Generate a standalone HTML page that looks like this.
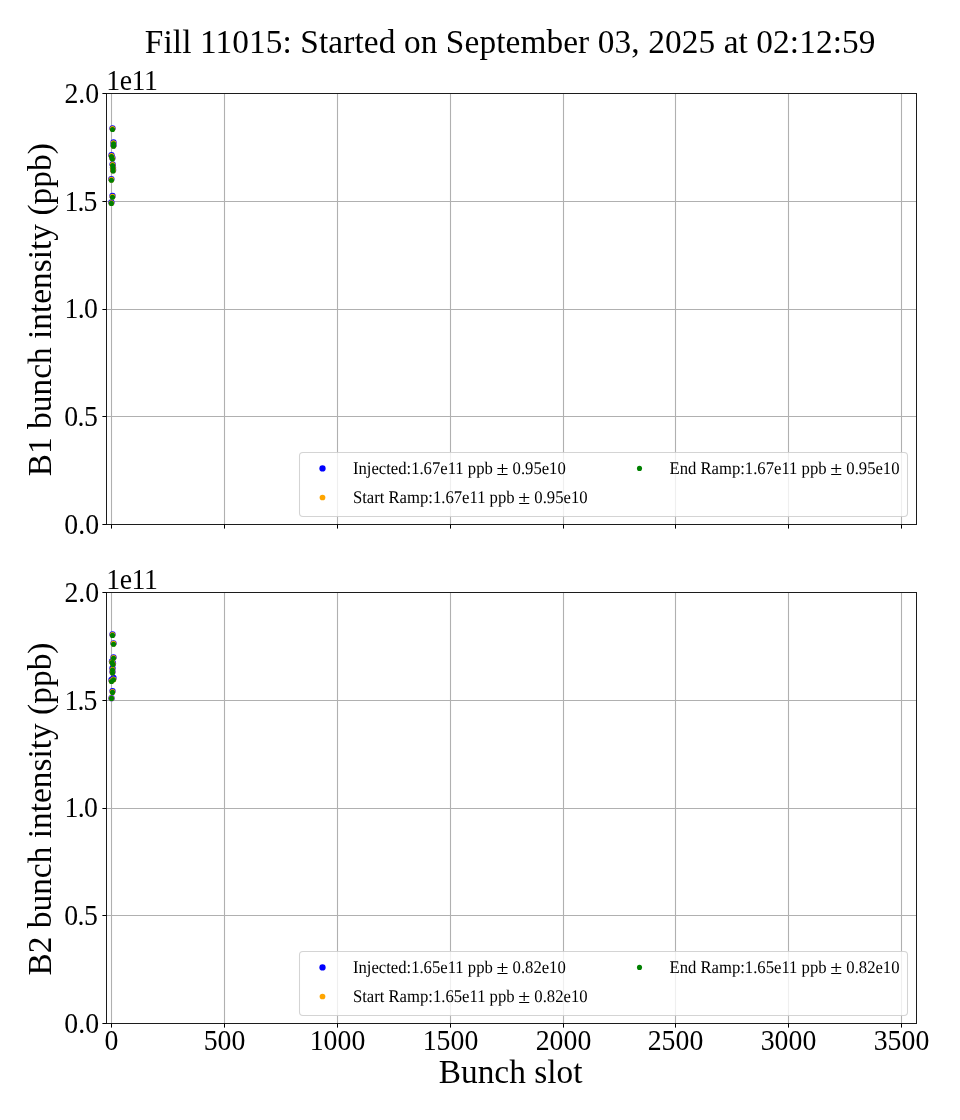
<!DOCTYPE html>
<html><head><meta charset="utf-8"><title>Fill 11015</title>
<style>
html,body{margin:0;padding:0;background:#fff;overflow:hidden;}
svg{display:block;}
text{font-family:'Liberation Serif', 'Times New Roman', serif;fill:#000;}
.t24{font-size:33.333px;}
.t20{font-size:27.778px;}
.t12{font-size:16.667px;}
.t12b{font-size:17.8px;text-rendering:geometricPrecision;}
.pm{font-size:18.4px;}
</style></head><body>
<svg width="960" height="1120" viewBox="0 0 960 1120">
<rect width="960" height="1120" fill="#ffffff"/>
<text transform="translate(144.84,52.90)" class="t24" textLength="730.70" lengthAdjust="spacing">Fill 11015: Started on September 03, 2025 at 02:12:59</text>
<line x1="111.5" y1="93.5" x2="111.5" y2="524.5" stroke="#b0b0b0" stroke-width="1.11"/>
<line x1="224.5" y1="93.5" x2="224.5" y2="524.5" stroke="#b0b0b0" stroke-width="1.11"/>
<line x1="337.5" y1="93.5" x2="337.5" y2="524.5" stroke="#b0b0b0" stroke-width="1.11"/>
<line x1="450.5" y1="93.5" x2="450.5" y2="524.5" stroke="#b0b0b0" stroke-width="1.11"/>
<line x1="563.5" y1="93.5" x2="563.5" y2="524.5" stroke="#b0b0b0" stroke-width="1.11"/>
<line x1="675.5" y1="93.5" x2="675.5" y2="524.5" stroke="#b0b0b0" stroke-width="1.11"/>
<line x1="788.5" y1="93.5" x2="788.5" y2="524.5" stroke="#b0b0b0" stroke-width="1.11"/>
<line x1="901.5" y1="93.5" x2="901.5" y2="524.5" stroke="#b0b0b0" stroke-width="1.11"/>
<line x1="106.5" y1="93.5" x2="916.5" y2="93.5" stroke="#b0b0b0" stroke-width="1.11"/>
<line x1="106.5" y1="201.5" x2="916.5" y2="201.5" stroke="#b0b0b0" stroke-width="1.11"/>
<line x1="106.5" y1="309.5" x2="916.5" y2="309.5" stroke="#b0b0b0" stroke-width="1.11"/>
<line x1="106.5" y1="416.5" x2="916.5" y2="416.5" stroke="#b0b0b0" stroke-width="1.11"/>
<line x1="106.5" y1="524.5" x2="916.5" y2="524.5" stroke="#b0b0b0" stroke-width="1.11"/>
<circle cx="112.5" cy="128.3" r="3.15" fill="#0000ff"/>
<circle cx="113.5" cy="142.39999999999998" r="3.15" fill="#0000ff"/>
<circle cx="113.5" cy="145.3" r="3.15" fill="#0000ff"/>
<circle cx="111.5" cy="155.2" r="3.15" fill="#0000ff"/>
<circle cx="112.4" cy="158.0" r="3.15" fill="#0000ff"/>
<circle cx="112.6" cy="164.3" r="3.15" fill="#0000ff"/>
<circle cx="113.0" cy="167.5" r="3.15" fill="#0000ff"/>
<circle cx="113.1" cy="170.0" r="3.15" fill="#0000ff"/>
<circle cx="111.4" cy="179.10000000000002" r="3.15" fill="#0000ff"/>
<circle cx="112.5" cy="196.0" r="3.15" fill="#0000ff"/>
<circle cx="111.4" cy="202.4" r="3.15" fill="#0000ff"/>
<circle cx="112.5" cy="128.8" r="2.85" fill="#ffa500"/>
<circle cx="113.5" cy="143.0" r="2.85" fill="#ffa500"/>
<circle cx="113.5" cy="145.8" r="2.85" fill="#ffa500"/>
<circle cx="111.5" cy="155.8" r="2.85" fill="#ffa500"/>
<circle cx="112.4" cy="158.5" r="2.85" fill="#ffa500"/>
<circle cx="112.6" cy="164.9" r="2.85" fill="#ffa500"/>
<circle cx="113.0" cy="168.0" r="2.85" fill="#ffa500"/>
<circle cx="113.1" cy="170.5" r="2.85" fill="#ffa500"/>
<circle cx="111.4" cy="179.70000000000002" r="2.85" fill="#ffa500"/>
<circle cx="112.5" cy="196.60000000000002" r="2.85" fill="#ffa500"/>
<circle cx="111.4" cy="203.0" r="2.85" fill="#ffa500"/>
<circle cx="112.5" cy="129.5" r="2.55" fill="#008000"/>
<circle cx="113.5" cy="143.7" r="2.55" fill="#008000"/>
<circle cx="113.5" cy="146.3" r="2.55" fill="#008000"/>
<circle cx="111.5" cy="156.5" r="2.55" fill="#008000"/>
<circle cx="112.4" cy="159.0" r="2.55" fill="#008000"/>
<circle cx="112.6" cy="165.5" r="2.55" fill="#008000"/>
<circle cx="113.0" cy="168.5" r="2.55" fill="#008000"/>
<circle cx="113.1" cy="171.0" r="2.55" fill="#008000"/>
<circle cx="111.4" cy="180.3" r="2.55" fill="#008000"/>
<circle cx="112.5" cy="197.3" r="2.55" fill="#008000"/>
<circle cx="111.4" cy="203.4" r="2.55" fill="#008000"/>
<rect x="106.5" y="93.5" width="810.0" height="431.0" fill="none" stroke="#1c1c1c" stroke-width="1"/>
<line x1="111.5" y1="524.5" x2="111.5" y2="528.6" stroke="#000" stroke-width="1.0"/>
<line x1="224.5" y1="524.5" x2="224.5" y2="528.6" stroke="#000" stroke-width="1.0"/>
<line x1="337.5" y1="524.5" x2="337.5" y2="528.6" stroke="#000" stroke-width="1.0"/>
<line x1="450.5" y1="524.5" x2="450.5" y2="528.6" stroke="#000" stroke-width="1.0"/>
<line x1="563.5" y1="524.5" x2="563.5" y2="528.6" stroke="#000" stroke-width="1.0"/>
<line x1="675.5" y1="524.5" x2="675.5" y2="528.6" stroke="#000" stroke-width="1.0"/>
<line x1="788.5" y1="524.5" x2="788.5" y2="528.6" stroke="#000" stroke-width="1.0"/>
<line x1="901.5" y1="524.5" x2="901.5" y2="528.6" stroke="#000" stroke-width="1.0"/>
<line x1="106.5" y1="93.5" x2="102.4" y2="93.5" stroke="#000" stroke-width="1.0"/>
<line x1="106.5" y1="201.5" x2="102.4" y2="201.5" stroke="#000" stroke-width="1.0"/>
<line x1="106.5" y1="309.5" x2="102.4" y2="309.5" stroke="#000" stroke-width="1.0"/>
<line x1="106.5" y1="416.5" x2="102.4" y2="416.5" stroke="#000" stroke-width="1.0"/>
<line x1="106.5" y1="524.5" x2="102.4" y2="524.5" stroke="#000" stroke-width="1.0"/>
<text transform="translate(64.38,102.60) scale(1.0,1.055)" class="t20" textLength="34.68" lengthAdjust="spacing">2.0</text>
<text transform="translate(64.46,210.60) scale(1.0,1.055)" class="t20" textLength="32.88" lengthAdjust="spacing">1.5</text>
<text transform="translate(64.46,317.60) scale(1.0,1.055)" class="t20" textLength="33.50" lengthAdjust="spacing">1.0</text>
<text transform="translate(64.34,425.60) scale(1.0,1.055)" class="t20" textLength="33.45" lengthAdjust="spacing">0.5</text>
<text transform="translate(64.34,533.60) scale(1.0,1.055)" class="t20" textLength="34.82" lengthAdjust="spacing">0.0</text>
<text transform="translate(106.30,89.90) scale(1.0,1.055)" class="t20" textLength="51.60" lengthAdjust="spacing">1e11</text>
<text transform="translate(50.70,309.75) rotate(-90)" class="t24" text-anchor="middle" textLength="333.00" lengthAdjust="spacing">B1 bunch intensity (ppb)</text>
<rect x="299.5" y="452.5" width="608.0" height="64.0" rx="3.4" ry="3.4" fill="#ffffff" fill-opacity="0.8" stroke="#cccccc" stroke-opacity="0.85" stroke-width="1.05"/>
<circle cx="322.5" cy="468.4" r="3.15" fill="#0000ff"/>
<circle cx="322.5" cy="497.5" r="2.85" fill="#ffa500"/>
<circle cx="639.5" cy="468.4" r="2.55" fill="#008000"/>
<text transform="translate(352.90,473.70) scale(0.9363,1.0)" class="t12b">Injected:1.67e11 ppb</text>
<text transform="translate(496.52,475.00) scale(1.18,1.0)" class="pm">±</text>
<text transform="translate(512.58,473.70) scale(0.9363,1.0)" class="t12b">0.95e10</text>
<text transform="translate(352.90,502.80) scale(0.9363,1.0)" class="t12b">Start Ramp:1.67e11 ppb</text>
<text transform="translate(518.31,504.10) scale(1.18,1.0)" class="pm">±</text>
<text transform="translate(534.37,502.80) scale(0.9363,1.0)" class="t12b">0.95e10</text>
<text transform="translate(669.50,473.70) scale(0.9363,1.0)" class="t12b">End Ramp:1.67e11 ppb</text>
<text transform="translate(830.27,475.00) scale(1.18,1.0)" class="pm">±</text>
<text transform="translate(846.33,473.70) scale(0.9363,1.0)" class="t12b">0.95e10</text>
<line x1="111.5" y1="592.5" x2="111.5" y2="1023.5" stroke="#b0b0b0" stroke-width="1.11"/>
<line x1="224.5" y1="592.5" x2="224.5" y2="1023.5" stroke="#b0b0b0" stroke-width="1.11"/>
<line x1="337.5" y1="592.5" x2="337.5" y2="1023.5" stroke="#b0b0b0" stroke-width="1.11"/>
<line x1="450.5" y1="592.5" x2="450.5" y2="1023.5" stroke="#b0b0b0" stroke-width="1.11"/>
<line x1="563.5" y1="592.5" x2="563.5" y2="1023.5" stroke="#b0b0b0" stroke-width="1.11"/>
<line x1="675.5" y1="592.5" x2="675.5" y2="1023.5" stroke="#b0b0b0" stroke-width="1.11"/>
<line x1="788.5" y1="592.5" x2="788.5" y2="1023.5" stroke="#b0b0b0" stroke-width="1.11"/>
<line x1="901.5" y1="592.5" x2="901.5" y2="1023.5" stroke="#b0b0b0" stroke-width="1.11"/>
<line x1="106.5" y1="592.5" x2="916.5" y2="592.5" stroke="#b0b0b0" stroke-width="1.11"/>
<line x1="106.5" y1="700.5" x2="916.5" y2="700.5" stroke="#b0b0b0" stroke-width="1.11"/>
<line x1="106.5" y1="808.5" x2="916.5" y2="808.5" stroke="#b0b0b0" stroke-width="1.11"/>
<line x1="106.5" y1="915.5" x2="916.5" y2="915.5" stroke="#b0b0b0" stroke-width="1.11"/>
<line x1="106.5" y1="1023.5" x2="916.5" y2="1023.5" stroke="#b0b0b0" stroke-width="1.11"/>
<circle cx="112.5" cy="634.4" r="3.15" fill="#0000ff"/>
<circle cx="113.5" cy="643.3" r="3.15" fill="#0000ff"/>
<circle cx="113.5" cy="657.3" r="3.15" fill="#0000ff"/>
<circle cx="112.0" cy="661.3" r="3.15" fill="#0000ff"/>
<circle cx="113.0" cy="663.5" r="3.15" fill="#0000ff"/>
<circle cx="112.5" cy="668.2" r="3.15" fill="#0000ff"/>
<circle cx="112.5" cy="671.8" r="3.15" fill="#0000ff"/>
<circle cx="113.5" cy="678.0" r="3.15" fill="#0000ff"/>
<circle cx="111.5" cy="680.0" r="3.15" fill="#0000ff"/>
<circle cx="112.5" cy="691.1" r="3.15" fill="#0000ff"/>
<circle cx="111.5" cy="698.1999999999999" r="3.15" fill="#0000ff"/>
<circle cx="112.5" cy="634.8" r="2.85" fill="#ffa500"/>
<circle cx="113.5" cy="643.6999999999999" r="2.85" fill="#ffa500"/>
<circle cx="113.5" cy="657.8" r="2.85" fill="#ffa500"/>
<circle cx="112.0" cy="662.1" r="2.85" fill="#ffa500"/>
<circle cx="113.0" cy="664.0" r="2.85" fill="#ffa500"/>
<circle cx="112.5" cy="669.6" r="2.85" fill="#ffa500"/>
<circle cx="112.5" cy="672.6" r="2.85" fill="#ffa500"/>
<circle cx="113.5" cy="679.4" r="2.85" fill="#ffa500"/>
<circle cx="111.5" cy="681.1" r="2.85" fill="#ffa500"/>
<circle cx="112.5" cy="691.9" r="2.85" fill="#ffa500"/>
<circle cx="111.5" cy="698.3" r="2.85" fill="#ffa500"/>
<circle cx="112.5" cy="635.4" r="2.55" fill="#008000"/>
<circle cx="113.5" cy="644.3" r="2.55" fill="#008000"/>
<circle cx="113.5" cy="658.3" r="2.55" fill="#008000"/>
<circle cx="112.0" cy="662.5" r="2.55" fill="#008000"/>
<circle cx="113.0" cy="664.5" r="2.55" fill="#008000"/>
<circle cx="112.5" cy="670.0" r="2.55" fill="#008000"/>
<circle cx="112.5" cy="673.0" r="2.55" fill="#008000"/>
<circle cx="113.5" cy="679.8" r="2.55" fill="#008000"/>
<circle cx="111.5" cy="681.5" r="2.55" fill="#008000"/>
<circle cx="112.5" cy="692.4" r="2.55" fill="#008000"/>
<circle cx="111.5" cy="698.4" r="2.55" fill="#008000"/>
<rect x="106.5" y="592.5" width="810.0" height="431.0" fill="none" stroke="#1c1c1c" stroke-width="1"/>
<line x1="111.5" y1="1023.5" x2="111.5" y2="1027.6" stroke="#000" stroke-width="1.0"/>
<line x1="224.5" y1="1023.5" x2="224.5" y2="1027.6" stroke="#000" stroke-width="1.0"/>
<line x1="337.5" y1="1023.5" x2="337.5" y2="1027.6" stroke="#000" stroke-width="1.0"/>
<line x1="450.5" y1="1023.5" x2="450.5" y2="1027.6" stroke="#000" stroke-width="1.0"/>
<line x1="563.5" y1="1023.5" x2="563.5" y2="1027.6" stroke="#000" stroke-width="1.0"/>
<line x1="675.5" y1="1023.5" x2="675.5" y2="1027.6" stroke="#000" stroke-width="1.0"/>
<line x1="788.5" y1="1023.5" x2="788.5" y2="1027.6" stroke="#000" stroke-width="1.0"/>
<line x1="901.5" y1="1023.5" x2="901.5" y2="1027.6" stroke="#000" stroke-width="1.0"/>
<line x1="106.5" y1="592.5" x2="102.4" y2="592.5" stroke="#000" stroke-width="1.0"/>
<line x1="106.5" y1="700.5" x2="102.4" y2="700.5" stroke="#000" stroke-width="1.0"/>
<line x1="106.5" y1="808.5" x2="102.4" y2="808.5" stroke="#000" stroke-width="1.0"/>
<line x1="106.5" y1="915.5" x2="102.4" y2="915.5" stroke="#000" stroke-width="1.0"/>
<line x1="106.5" y1="1023.5" x2="102.4" y2="1023.5" stroke="#000" stroke-width="1.0"/>
<text transform="translate(64.38,601.60) scale(1.0,1.055)" class="t20" textLength="34.68" lengthAdjust="spacing">2.0</text>
<text transform="translate(64.46,709.60) scale(1.0,1.055)" class="t20" textLength="32.88" lengthAdjust="spacing">1.5</text>
<text transform="translate(64.46,816.60) scale(1.0,1.055)" class="t20" textLength="33.50" lengthAdjust="spacing">1.0</text>
<text transform="translate(64.34,924.60) scale(1.0,1.055)" class="t20" textLength="33.45" lengthAdjust="spacing">0.5</text>
<text transform="translate(64.34,1032.60) scale(1.0,1.055)" class="t20" textLength="34.82" lengthAdjust="spacing">0.0</text>
<text transform="translate(106.30,588.90) scale(1.0,1.055)" class="t20" textLength="51.60" lengthAdjust="spacing">1e11</text>
<text transform="translate(111.50,1050.00) scale(1.0,1.055)" class="t20" text-anchor="middle">0</text>
<text transform="translate(224.50,1050.00) scale(1.0,1.055)" class="t20" text-anchor="middle">500</text>
<text transform="translate(337.50,1050.00) scale(1.0,1.055)" class="t20" text-anchor="middle">1000</text>
<text transform="translate(450.50,1050.00) scale(1.0,1.055)" class="t20" text-anchor="middle">1500</text>
<text transform="translate(563.50,1050.00) scale(1.0,1.055)" class="t20" text-anchor="middle">2000</text>
<text transform="translate(675.50,1050.00) scale(1.0,1.055)" class="t20" text-anchor="middle">2500</text>
<text transform="translate(788.50,1050.00) scale(1.0,1.055)" class="t20" text-anchor="middle">3000</text>
<text transform="translate(901.50,1050.00) scale(1.0,1.055)" class="t20" text-anchor="middle">3500</text>
<text transform="translate(50.70,809.05) rotate(-90)" class="t24" text-anchor="middle" textLength="333.00" lengthAdjust="spacing">B2 bunch intensity (ppb)</text>
<rect x="299.5" y="951.5" width="608.0" height="64.0" rx="3.4" ry="3.4" fill="#ffffff" fill-opacity="0.8" stroke="#cccccc" stroke-opacity="0.85" stroke-width="1.05"/>
<circle cx="322.5" cy="967.4" r="3.15" fill="#0000ff"/>
<circle cx="322.5" cy="996.5" r="2.85" fill="#ffa500"/>
<circle cx="639.5" cy="967.4" r="2.55" fill="#008000"/>
<text transform="translate(352.90,972.70) scale(0.9363,1.0)" class="t12b">Injected:1.65e11 ppb</text>
<text transform="translate(496.52,974.00) scale(1.18,1.0)" class="pm">±</text>
<text transform="translate(512.58,972.70) scale(0.9363,1.0)" class="t12b">0.82e10</text>
<text transform="translate(352.90,1001.80) scale(0.9363,1.0)" class="t12b">Start Ramp:1.65e11 ppb</text>
<text transform="translate(518.31,1003.10) scale(1.18,1.0)" class="pm">±</text>
<text transform="translate(534.37,1001.80) scale(0.9363,1.0)" class="t12b">0.82e10</text>
<text transform="translate(669.50,972.70) scale(0.9363,1.0)" class="t12b">End Ramp:1.65e11 ppb</text>
<text transform="translate(830.27,974.00) scale(1.18,1.0)" class="pm">±</text>
<text transform="translate(846.33,972.70) scale(0.9363,1.0)" class="t12b">0.82e10</text>
<text transform="translate(438.74,1082.80)" class="t24" textLength="143.76" lengthAdjust="spacing">Bunch slot</text>
</svg>
</body></html>
